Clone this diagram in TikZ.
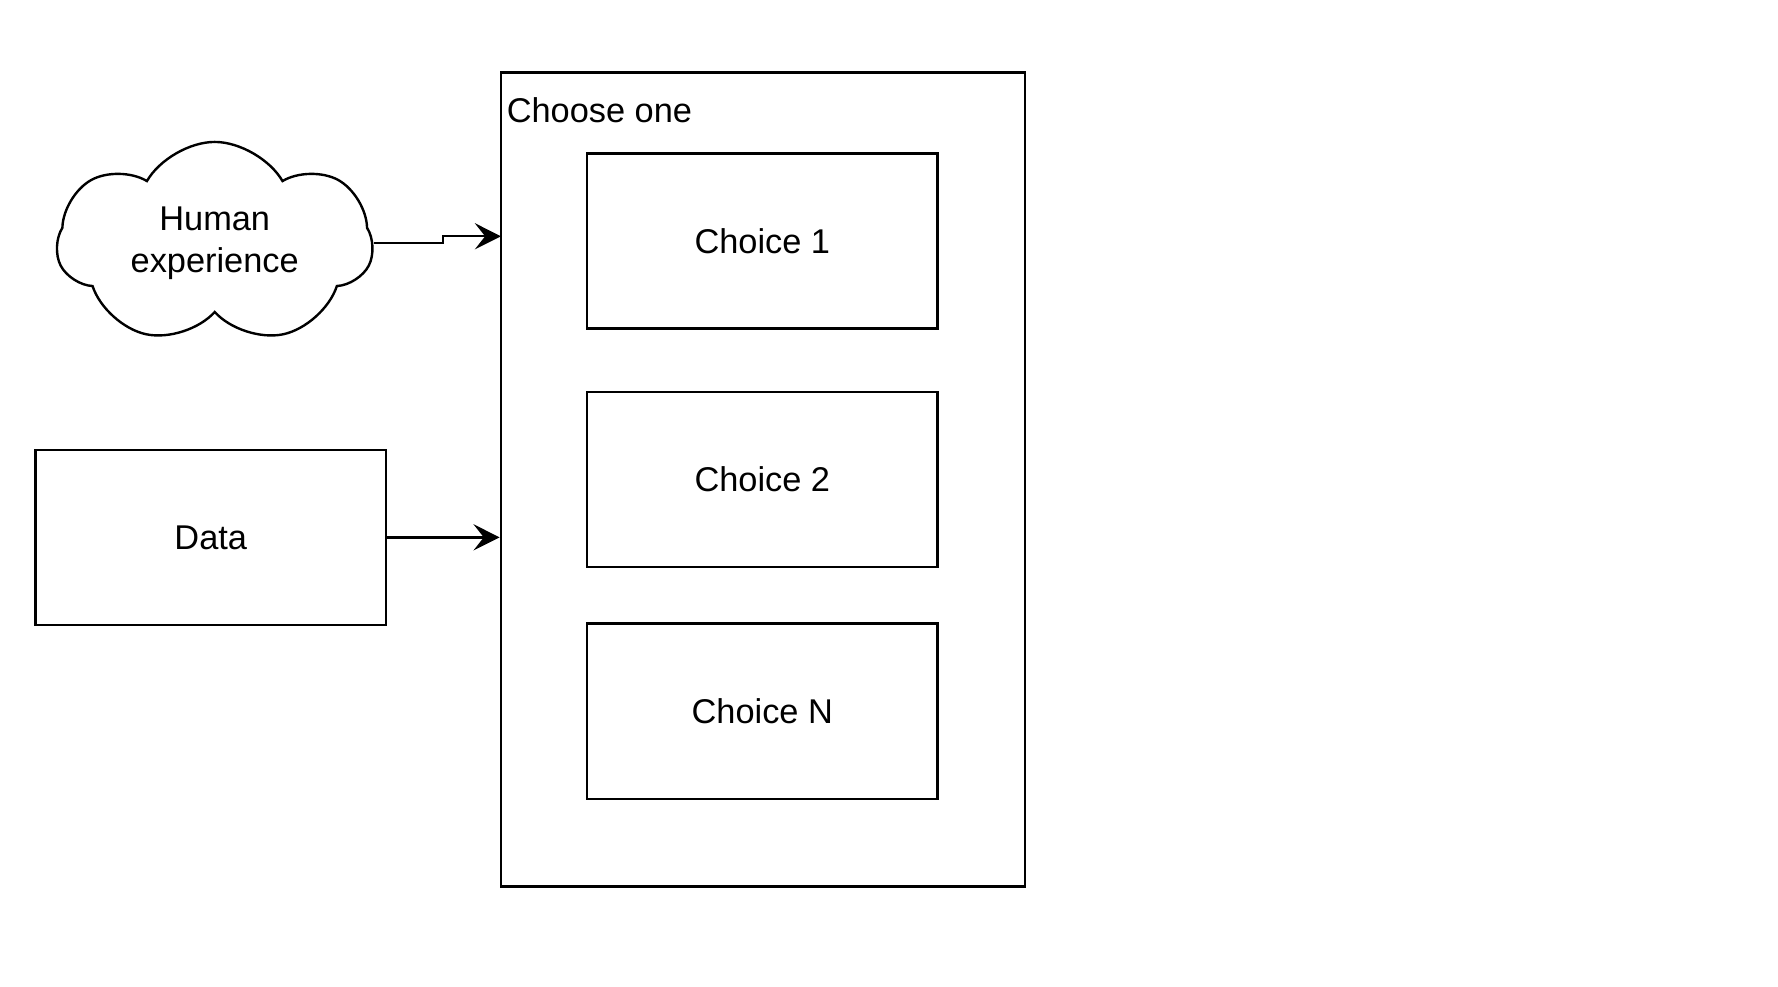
\documentclass[tikz,border=0pt]{standalone}
\usepackage{fontspec}
\setmainfont{Liberation Sans}
\usepackage{tikz}
\usetikzlibrary{shapes.symbols, arrows.meta}

\begin{document}
\begin{tikzpicture}[x=0.01cm, y=-0.01cm, line width=0.6pt,
                    font=\fontsize{8.6}{10.5}\selectfont,
                    choice/.style={draw, minimum width=3.08cm, minimum height=1.54cm, inner sep=0pt},
                    flow/.style={-{Stealth[length=2.3mm, width=2.3mm, inset=0.9mm]}}]
  \useasboundingbox (0, 0) rectangle (1565, 868);

  \node[draw, minimum width=4.61cm, minimum height=7.16cm] (group) at (671.5, 422) {};
  \node[anchor=west, inner sep=0pt] (grouplabel) at (445, 97) {Choose one};

  \node[choice] (choice1) at (671, 212) {Choice 1};
  \node[choice] (choice2) at (671, 422) {Choice 2};
  \node[choice] (choiceN) at (671, 626) {Choice N};

  \node[cloud, draw, cloud puffs=7, cloud puff arc=120, aspect=1.6, minimum width=2.78cm, minimum height=1.78cm,
        inner sep=0pt, align=center] (human) at (189, 214) {Human\\experience};
  \node[choice] (data) at (185.5, 473) {Data};

  \coordinate (bend) at (390, 0);
  \coordinate (in1) at (441, 208);
  \draw[flow] (human.east) -- (human.east -| bend) |- (in1);
  \draw[flow] (data) -- (data -| group.west);
\end{tikzpicture}
\end{document}
